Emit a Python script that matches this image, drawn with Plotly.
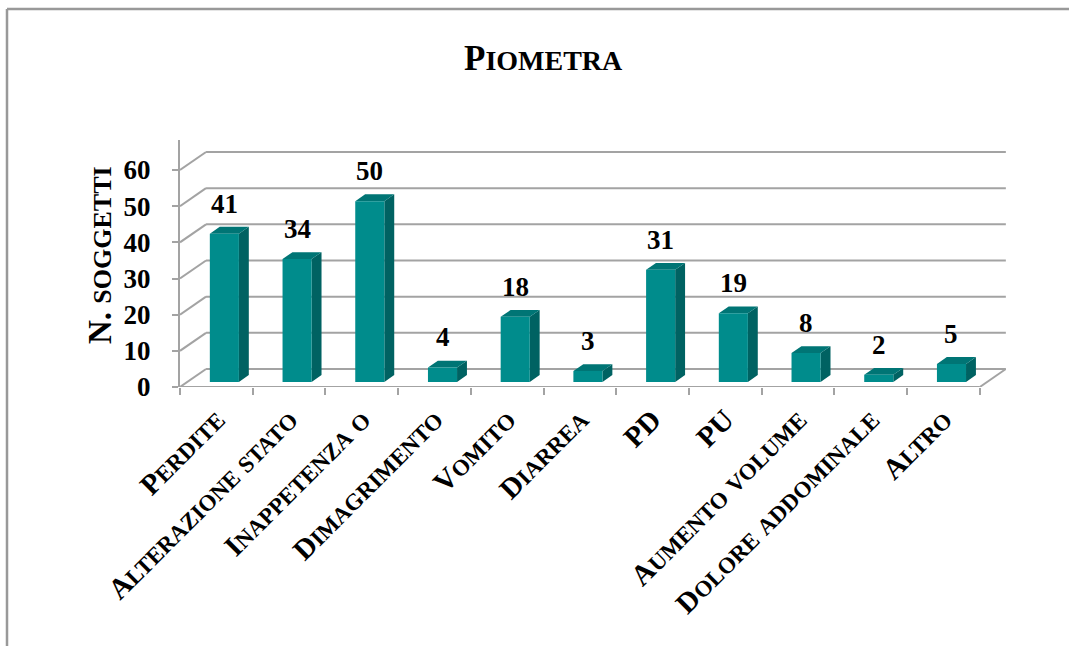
import plotly.graph_objects as go

# Data
categories = ["Perdite", "Alterazione stato", "Inappetenza o", "Dimagrimento", "Vomito",
              "Diarrea", "PD", "PU", "Aumento volume", "Dolore addominale", "Altro"]
values = [41, 34, 50, 4, 18, 3, 31, 19, 8, 2, 5]
y_ticks = [0, 10, 20, 30, 40, 50, 60]
title_text = "Piometra"
y_title_text = "N. soggetti"

# Page / plot geometry (pixels)
W, H = 1069, 646
PL, PR, PT, PB = 180, 1006, 140, 387          # plot area edges
N = len(categories)
X_MAX = 11.36                                  # x range in category units
Y_MAX = 68.3                                   # y range in value units
DX, DY = 0.358, 4.98                           # depth of the 3D box (data units)
BAR_A, BAR_W = 0.31, 0.40                      # bar offset / width inside a category
F1, F2 = 0.28, 0.66                            # bar depth (fraction of box depth)

FRONT = "#008C8C"
TOP = "#007575"
SIDE = "#006262"
GRID = "#A3A3A3"
FONT = "Liberation Serif, Times New Roman, serif"


def small_caps(text, big, small):
    """Render lowercase letters as reduced-size capitals."""
    out, run = [], ""
    for ch in text:
        if ch.islower():
            run += ch.upper()
        else:
            if run:
                out.append(f'<span style="font-size:{small}px">{run}</span>')
                run = ""
            out.append(ch)
    if run:
        out.append(f'<span style="font-size:{small}px">{run}</span>')
    return "<b>" + "".join(out) + "</b>"


def px_x(p):
    return (p - PL) / (PR - PL)


def px_y(p):
    return (PB - p) / (PB - PT)


fig = go.Figure()

# Walls: side-wall slants and back-wall gridlines
shapes = []
for v in y_ticks:
    shapes.append(dict(type="line", xref="x", yref="y", x0=0, y0=v, x1=DX, y1=v + DY,
                       line=dict(color=GRID, width=2), layer="below"))
    shapes.append(dict(type="line", xref="x", yref="y", x0=DX, y0=v + DY, x1=N + DX, y1=v + DY,
                       line=dict(color=GRID, width=2), layer="below"))
# Floor front edge and right edge
shapes.append(dict(type="line", xref="x", yref="y", x0=0, y0=0, x1=N, y1=0,
                   line=dict(color=GRID, width=2), layer="below"))
shapes.append(dict(type="line", xref="x", yref="y", x0=N, y0=0, x1=N + DX, y1=DY,
                   line=dict(color=GRID, width=2), layer="below"))
# Outer chart frame (top and left edges)
shapes.append(dict(type="line", xref="paper", yref="paper", x0=px_x(7), y0=px_y(9),
                   x1=px_x(W + 20), y1=px_y(9), line=dict(color="#999999", width=2.5)))
shapes.append(dict(type="line", xref="paper", yref="paper", x0=px_x(7), y0=px_y(9),
                   x1=px_x(7), y1=px_y(H + 20), line=dict(color="#999999", width=2.5)))

# 3D bars: front, top and side faces
fx, fy, tx, ty, sx, sy = [], [], [], [], [], []
for i, v in enumerate(values):
    l = i + BAR_A
    r = l + BAR_W
    x1l, x1r = l + F1 * DX, r + F1 * DX
    x2l, x2r = l + F2 * DX, r + F2 * DX
    y1b, y2b = F1 * DY, F2 * DY
    y1t, y2t = v + F1 * DY, v + F2 * DY
    fx += [x1l, x1r, x1r, x1l, x1l, None]
    fy += [y1b, y1b, y1t, y1t, y1b, None]
    tx += [x1l, x1r, x2r, x2l, x1l, None]
    ty += [y1t, y1t, y2t, y2t, y1t, None]
    sx += [x1r, x2r, x2r, x1r, x1r, None]
    sy += [y1b, y2b, y2t, y1t, y1b, None]

for xs, ys, col in [(sx, sy, SIDE), (tx, ty, TOP), (fx, fy, FRONT)]:
    fig.add_trace(go.Scatter(x=xs, y=ys, fill="toself", fillcolor=col, mode="lines",
                             line=dict(width=0, color=col), hoverinfo="skip",
                             showlegend=False))

# Axis carrying tick marks at category boundaries
fig.add_trace(go.Scatter(x=[0], y=[0], xaxis="x2", mode="markers",
                         marker=dict(opacity=0), hoverinfo="skip", showlegend=False))

# Value labels above each bar
annotations = []
for i, v in enumerate(values):
    annotations.append(dict(x=i + BAR_A + BAR_W / 2 + F1 * DX, y=v + F1 * DY,
                            xref="x", yref="y", text=f"<b>{v}</b>", showarrow=False,
                            yanchor="bottom", yshift=13,
                            font=dict(family=FONT, size=27, color="black")))

# Title
annotations.append(dict(x=px_x(543), y=px_y(58), xref="paper", yref="paper",
                        text=small_caps(title_text, 35, 28), showarrow=False,
                        xanchor="center", yanchor="middle",
                        font=dict(family=FONT, size=35, color="black")))
# Y-axis title
annotations.append(dict(x=px_x(100), y=px_y(255), xref="paper", yref="paper",
                        text=small_caps(y_title_text, 33, 26), showarrow=False, textangle=-90,
                        xanchor="center", yanchor="middle",
                        font=dict(family=FONT, size=33, color="black")))

fig.update_layout(
    width=W, height=H,
    margin=dict(l=PL, r=W - PR, t=PT, b=H - PB, pad=0),
    paper_bgcolor="white", plot_bgcolor="white",
    shapes=shapes, annotations=annotations,
    showlegend=False,
    xaxis=dict(range=[0, X_MAX], tickvals=[i + 0.5 for i in range(N)],
               ticktext=[small_caps(c, 29, 23) for c in categories],
               tickangle=-45, ticks="", showgrid=False, zeroline=False, showline=False,
               tickfont=dict(family=FONT, size=29, color="black"), ticklabelstandoff=9,
               fixedrange=True),
    xaxis2=dict(range=[0, X_MAX], overlaying="x", anchor="y", side="bottom",
                tickvals=list(range(N + 1)), ticks="outside", ticklen=7, tickwidth=2,
                tickcolor=GRID, showticklabels=False, showgrid=False, zeroline=False,
                showline=False, fixedrange=True),
    yaxis=dict(range=[0, Y_MAX], tickvals=y_ticks, ticktext=[f"<b>{t}</b>" for t in y_ticks],
               ticks="outside", ticklen=6, tickwidth=2, tickcolor=GRID,
               showline=True, linecolor=GRID, linewidth=2, showgrid=False, zeroline=False,
               tickfont=dict(family=FONT, size=27, color="black"), ticklabelstandoff=16,
               fixedrange=True),
)

fig.write_html("out.html")
